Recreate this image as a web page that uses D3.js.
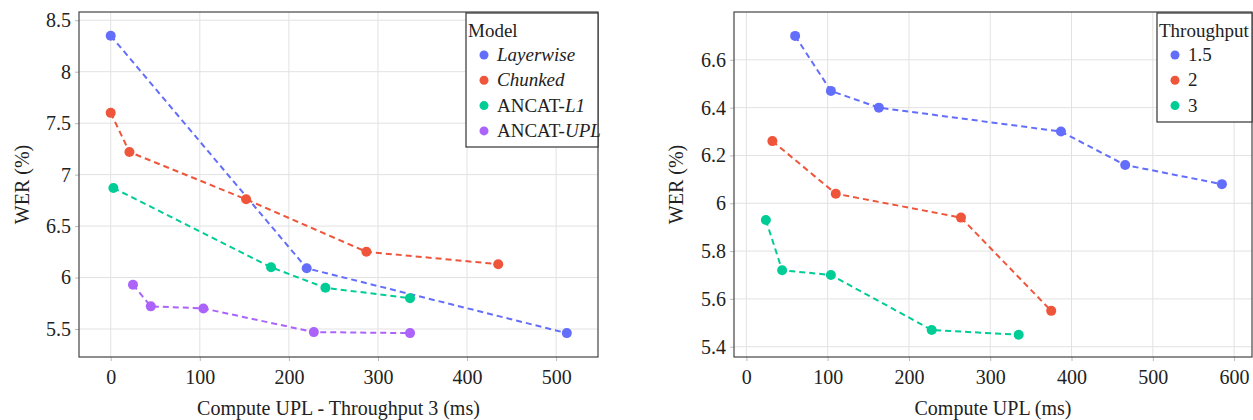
<!DOCTYPE html>
<html>
<head>
<meta charset="utf-8">
<script src="https://cdn.jsdelivr.net/npm/d3@7"></script>
<style>
  html, body { margin: 0; padding: 0; background: #fff; }
</style>
</head>
<body>
<svg id="chart" width="1253" height="420"></svg>
<script>
// ---- Data: left panel (Throughput 3) ----
const modelNames = ['Layerwise', 'Chunked', 'ANCAT-L1', 'ANCAT-UPL'];
const layerwiseX = [0, 220, 512];
const layerwiseY = [8.35, 6.09, 5.46];
const chunkedX = [0, 21, 152, 287, 435];
const chunkedY = [7.60, 7.22, 6.76, 6.25, 6.13];
const ancatL1X = [3, 180, 241, 336];
const ancatL1Y = [6.87, 6.10, 5.90, 5.80];
const ancatUplX = [25, 45, 104, 228, 336];
const ancatUplY = [5.93, 5.72, 5.70, 5.47, 5.46];

// ---- Data: right panel (ANCAT-UPL by throughput) ----
const throughputNames = ['1.5', '2', '3'];
const tp15X = [60, 104, 163, 387, 466, 585];
const tp15Y = [6.70, 6.47, 6.40, 6.30, 6.16, 6.08];
const tp2X = [32, 110, 264, 375];
const tp2Y = [6.26, 6.04, 5.94, 5.55];
const tp3X = [24, 44, 104, 228, 335];
const tp3Y = [5.93, 5.72, 5.70, 5.47, 5.45];

const leftXTicks = [0, 100, 200, 300, 400, 500];
const leftYTicks = [5.5, 6, 6.5, 7, 7.5, 8, 8.5];
const rightXTicks = [0, 100, 200, 300, 400, 500, 600];
const rightYTicks = [5.4, 5.6, 5.8, 6, 6.2, 6.4, 6.6];

const colors = ['#636efa', '#ef553b', '#00cc96', '#ab63fa'];

// legend label pieces: [text, italic?]
const modelLabelParts = [
  [['Layerwise', true]],
  [['Chunked', true]],
  [['ANCAT-', false], ['L1', true]],
  [['ANCAT-', false], ['UPL', true]]
];

const FONT = "'Liberation Serif', 'Times New Roman', Times, 'DejaVu Serif', serif";
const zip = (xs, ys) => xs.map((x, i) => ({ x, y: ys[i] }));

const svg = d3.select('#chart');

function styleText(sel, size) {
  sel.attr('font-family', null)
    .style('font-family', FONT)
    .style('font-size', size + 'px')
    .style('fill', '#222');
}

function drawPanel(opts) {
  const { left, right, top, bottom, xDomain, yDomain, xTicks, yTicks, series, xTitle, yTitleX } = opts;
  const x = d3.scaleLinear().domain(xDomain).range([left, right]);
  const y = d3.scaleLinear().domain(yDomain).range([bottom, top]);
  const g = svg.append('g');

  // grid
  g.append('g').selectAll('line').data(xTicks).join('line')
    .attr('x1', d => x(d)).attr('x2', d => x(d))
    .attr('y1', top).attr('y2', bottom)
    .attr('stroke', '#e2e2e2').attr('stroke-width', 1);
  g.append('g').selectAll('line').data(yTicks).join('line')
    .attr('x1', left).attr('x2', right)
    .attr('y1', d => y(d)).attr('y2', d => y(d))
    .attr('stroke', '#e2e2e2').attr('stroke-width', 1);

  // axes
  const xAxis = g.append('g')
    .attr('transform', `translate(0,${bottom})`)
    .call(d3.axisBottom(x).tickValues(xTicks).tickSize(4).tickPadding(9).tickFormat(d3.format('d')));
  xAxis.select('.domain').remove();
  xAxis.attr('font-family', null);
  xAxis.selectAll('line').attr('stroke', '#bbb');
  styleText(xAxis.selectAll('text'), 20);

  const yAxis = g.append('g')
    .attr('transform', `translate(${left},0)`)
    .call(d3.axisLeft(y).tickValues(yTicks).tickSize(4).tickPadding(4).tickFormat(d => String(+d.toFixed(1))));
  yAxis.select('.domain').remove();
  yAxis.attr('font-family', null);
  yAxis.selectAll('line').attr('stroke', '#bbb');
  styleText(yAxis.selectAll('text'), 20);

  // frame
  g.append('rect')
    .attr('x', left).attr('y', top)
    .attr('width', right - left).attr('height', bottom - top)
    .attr('fill', 'none').attr('stroke', '#444').attr('stroke-width', 1.2);

  // series
  const line = d3.line().x(d => x(d.x)).y(d => y(d.y));
  series.forEach((s, i) => {
    g.append('path').datum(s)
      .attr('d', line)
      .attr('fill', 'none')
      .attr('stroke', colors[i])
      .attr('stroke-width', 2)
      .attr('stroke-dasharray', '6,4');
    g.append('g').selectAll('circle').data(s).join('circle')
      .attr('cx', d => x(d.x)).attr('cy', d => y(d.y))
      .attr('r', 5)
      .attr('fill', colors[i]);
  });

  // titles
  g.append('text')
    .attr('x', (left + right) / 2).attr('y', 415)
    .attr('text-anchor', 'middle')
    .text(xTitle)
    .call(styleText, 20);
  g.append('text')
    .attr('transform', `translate(${yTitleX},${(top + bottom) / 2}) rotate(-90)`)
    .attr('text-anchor', 'middle')
    .text('WER (%)')
    .call(styleText, 20);

  return g;
}

function drawLegend(box, title, labels) {
  const g = svg.append('g');
  g.append('rect')
    .attr('x', box.x).attr('y', box.y).attr('width', box.w).attr('height', box.h)
    .attr('fill', '#fff').attr('stroke', '#333').attr('stroke-width', 1.2);
  g.append('text')
    .attr('x', box.x + 2).attr('y', box.y + 24)
    .text(title)
    .call(styleText, 19);
  labels.forEach((parts, i) => {
    const cy = box.y + 42 + i * 25.3;
    g.append('circle').attr('cx', box.x + 18).attr('cy', cy).attr('r', 4.5).attr('fill', colors[i]);
    const t = g.append('text').attr('x', box.x + 31).attr('y', cy + 6).call(styleText, 19);
    parts.forEach(([txt, it]) => {
      t.append('tspan').style('font-style', it ? 'italic' : 'normal').text(txt);
    });
  });
}

drawPanel({
  left: 79, right: 598, top: 12, bottom: 357,
  xDomain: [-35.6, 547], yDomain: [5.228, 8.58],
  xTicks: leftXTicks, yTicks: leftYTicks,
  series: [zip(layerwiseX, layerwiseY), zip(chunkedX, chunkedY), zip(ancatL1X, ancatL1Y), zip(ancatUplX, ancatUplY)],
  xTitle: 'Compute UPL - Throughput 3 (ms)', yTitleX: 29
});
drawLegend({ x: 466, y: 13, w: 132, h: 134 }, 'Model', modelLabelParts);

drawPanel({
  left: 734, right: 1252, top: 12, bottom: 357,
  xDomain: [-15.2, 622], yDomain: [5.357, 6.80],
  xTicks: rightXTicks, yTicks: rightYTicks,
  series: [zip(tp15X, tp15Y), zip(tp2X, tp2Y), zip(tp3X, tp3Y)],
  xTitle: 'Compute UPL (ms)', yTitleX: 683
});
drawLegend({ x: 1157, y: 13, w: 95, h: 109 }, 'Throughput', throughputNames.map(n => [[n, false]]));
</script>
</body>
</html>
